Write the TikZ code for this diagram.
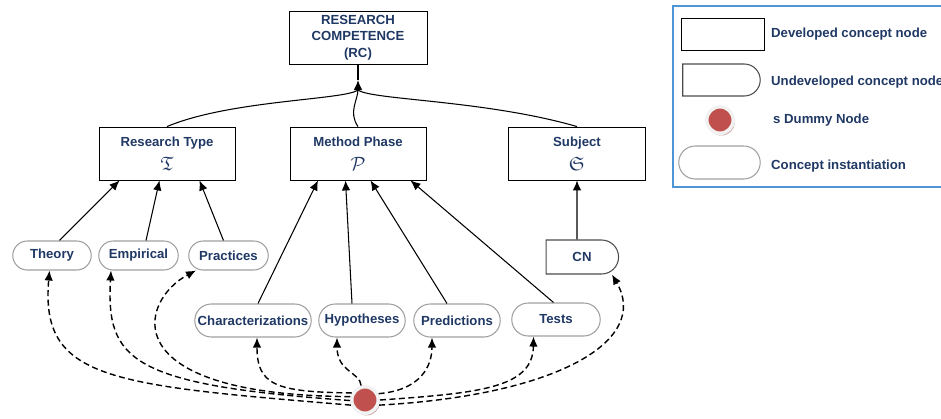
\documentclass[tikz,border=0pt]{standalone}
\usepackage{amssymb}
\usepackage{fontspec}
\setmainfont{Liberation Sans}
\usetikzlibrary{arrows.meta,shapes.misc,shadows}
\definecolor{txtblue}{RGB}{31,56,100}
\definecolor{dummyred}{RGB}{192,80,77}
\definecolor{legblue}{RGB}{79,148,212}
\tikzset{
  developed/.style={draw, line width=0.5pt, minimum height=10.6mm, align=center, inner sep=1pt},
  concept/.style={rounded rectangle, draw=gray!75, line width=0.6pt, minimum height=5.8mm, inner xsep=1pt},
  undeveloped/.style={concept, rounded rectangle left arc=none, draw=black!70},
  dummy/.style={circle, fill=dummyred, draw=gray!10, line width=0.7mm, minimum size=5.3mm, inner sep=0pt,
    drop shadow={shadow xshift=0.3mm, shadow yshift=-0.45mm, fill=dummyred!50!gray, opacity=0.55}},
  link/.style={-{Latex[length=2mm,width=1.7mm]}, line width=0.6pt},
  inst/.style={link, dash pattern=on 1.2mm off 0.7mm, line width=0.8pt}
}
\newcommand{\bigsym}[1]{{\fontsize{11}{11}\selectfont$#1$}}
\begin{document}
\begin{tikzpicture}[x=0.02cm, y=-0.02cm, font=\bfseries\fontsize{7.5}{9.5}\selectfont, text=txtblue]
      \useasboundingbox (0,0) rectangle (941,419);
      \draw
        (358,37.5) node[developed, minimum width=27.6mm] (rc) {RESEARCH\\COMPETENCE\\(RC)}
        (167,153.5) node[developed, minimum width=27.2mm] (rt) {Research Type\\[4pt]\bigsym{\mathfrak{T}}}
        (358,153.5) node[developed, minimum width=27.2mm] (mp) {Method Phase\\[4pt]\bigsym{\mathcal{P}}}
        (577,153.5) node[developed, minimum width=27.4mm] (sb) {Subject\\[4pt]\bigsym{\mathfrak{S}}}
        (52,255.5) node[concept, minimum width=16.4mm] (th) {Theory}
        (138.5,255.5) node[concept, minimum width=16.6mm] (em) {Empirical}
        (228.5,255.5) node[concept, minimum width=16.6mm] (pr) {Practices}
        (582,257) node[undeveloped, minimum width=15.2mm, minimum height=6.8mm] (cn) {CN}
        (253,320.5) node[concept, minimum width=24mm, minimum height=6.6mm] (ch) {Characterizations}
        (362,320.5) node[concept, minimum width=18mm, minimum height=6.6mm] (hy) {Hypotheses}
        (457,320.5) node[concept, minimum width=18mm, minimum height=6.6mm] (pd) {Predictions}
        (556,319.5) node[concept, minimum width=18.4mm, minimum height=6.6mm] (ts) {Tests}
        (365,400) node[dummy] (dm) {};
      \draw[legblue, line width=0.8pt] (673,6) rectangle (960,187);
      \draw
        (722.5,34) node[developed, minimum width=16.6mm, minimum height=6.4mm] (ldev) {}
        (721.5,80) node[undeveloped, minimum width=16.2mm, minimum height=6.4mm] (lund) {}
        (720,120) node[dummy] (ldm) {}
        (719.5,162.5) node[concept, minimum width=17mm, minimum height=6.6mm] (linst) {}
        (765,34) node[anchor=west] (tdev) {Developed concept node}
        (765,82) node[anchor=west] (tund) {Undeveloped concept node}
        (767,120) node[anchor=west] (tdm) {s Dummy Node}
        (765,166) node[anchor=west] (tinst) {Concept instantiation};
      \coordinate (join) at (358,90);
      \begin{scope}[line width=0.6pt]
        \draw ([yshift=2mm]join) -- (rc.south);
        \draw (rt.north) .. controls (230,100) and (345,100) .. (join);
        \draw (sb.north) .. controls (485,100) and (371,100) .. (join);
        \draw[link] (mp.north) .. controls (348,112) and (358,100) .. ([yshift=2mm]join);
      \end{scope}
      \begin{scope}[link]
        \draw ([xshift=1.5mm]th.north) -- ([xshift=-9.5mm]rt.south);
        \draw ([xshift=1.5mm]em.north) -- ([xshift=-1.5mm]rt.south);
        \draw ([xshift=-1mm]pr.north) -- ([xshift=6.5mm]rt.south);
        \draw ([xshift=1mm]ch.north) -- ([xshift=-8mm]mp.south);
        \draw ([xshift=-2mm]hy.north) -- ([xshift=-2.5mm]mp.south);
        \draw ([xshift=-2mm]pd.north) -- ([xshift=2.5mm]mp.south);
        \draw ([xshift=-0.5mm]ts.north) -- ([xshift=10.5mm]mp.south);
        \draw ([xshift=-1mm]cn.north) -- (sb.south);
      \end{scope}
      \begin{scope}[inst]
        \draw (dm.200) .. controls (110,385) and (40,380) .. ([xshift=-0.5mm]th.south);
        \draw (dm.182) .. controls (130,385) and (106,360) .. ([xshift=-5.5mm]em.south);
        \draw (dm.167) .. controls (110,395) and (140,300) .. ([xshift=-6.5mm]pr.south);
        \draw (dm.152) .. controls (275,392) and (257,385) .. ([xshift=0.8mm]ch.south);
        \draw (dm.105) .. controls (360,372) and (337,372) .. ([xshift=-5mm]hy.south);
        \draw (dm.25) .. controls (422,390) and (432,365) .. ([xshift=-5mm]pd.south);
        \draw (dm.0) .. controls (480,393) and (533,388) .. ([xshift=-4.5mm]ts.south);
        \draw (dm.-20) .. controls (560,395) and (650,340) .. ([xshift=6mm]cn.south);
      \end{scope}
    \end{tikzpicture}
\end{document}
